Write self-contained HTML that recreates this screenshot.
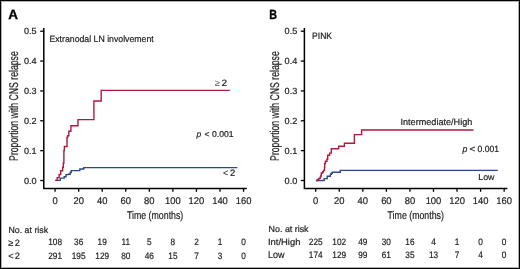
<!DOCTYPE html>
<html><head><meta charset="utf-8"><style>
html,body{margin:0;padding:0;background:#fff;}
body{width:520px;height:269px;overflow:hidden;}
svg{display:block;will-change:transform;}
text{font-family:"Liberation Sans", sans-serif;fill:#1e1e1e;text-rendering:geometricPrecision;stroke:#1e1e1e;stroke-width:0.2px;}
</style></head><body>
<svg width="520" height="269" viewBox="0 0 520 269">
<rect x="0" y="0" width="520" height="269" fill="#fff"/>
<rect x="0.5" y="0.5" width="519" height="268" fill="none" stroke="#000" stroke-width="1"/>
<rect x="1.5" y="1.5" width="517" height="266" fill="none" stroke="#000" stroke-opacity="0.3" stroke-width="1"/>
<text transform="translate(8.25,19.35) scale(0.9900,1)" font-size="13.60" font-weight="bold" style="stroke:#000;stroke-width:0.35px;fill:#000">A</text>
<text transform="translate(269.30,19.45) scale(0.8100,1)" font-size="13.30" font-weight="bold" style="stroke:#000;stroke-width:0.35px;fill:#000">B</text>
<g transform="translate(0,0)">
<path d="M43.8,28 V188.6 H246.8" fill="none" stroke="#000" stroke-width="1.5"/>
<line x1="40.2" x2="43.8" y1="180.50" y2="180.50" stroke="#000" stroke-width="1.3"/>
<text transform="translate(36.70,183.50) scale(1.0400,1)" font-size="8.80" text-anchor="end" >0.0</text>
<line x1="40.2" x2="43.8" y1="150.64" y2="150.64" stroke="#000" stroke-width="1.3"/>
<text transform="translate(36.70,153.64) scale(1.0400,1)" font-size="8.80" text-anchor="end" >0.1</text>
<line x1="40.2" x2="43.8" y1="120.78" y2="120.78" stroke="#000" stroke-width="1.3"/>
<text transform="translate(36.70,123.78) scale(1.0400,1)" font-size="8.80" text-anchor="end" >0.2</text>
<line x1="40.2" x2="43.8" y1="90.92" y2="90.92" stroke="#000" stroke-width="1.3"/>
<text transform="translate(36.70,93.92) scale(1.0400,1)" font-size="8.80" text-anchor="end" >0.3</text>
<line x1="40.2" x2="43.8" y1="61.06" y2="61.06" stroke="#000" stroke-width="1.3"/>
<text transform="translate(36.70,64.06) scale(1.0400,1)" font-size="8.80" text-anchor="end" >0.4</text>
<line x1="40.2" x2="43.8" y1="31.20" y2="31.20" stroke="#000" stroke-width="1.3"/>
<text transform="translate(36.70,34.20) scale(1.0400,1)" font-size="8.80" text-anchor="end" >0.5</text>
<line x1="55.10" x2="55.10" y1="188.6" y2="191.8" stroke="#000" stroke-width="1.3"/>
<text transform="translate(55.10,203.75) scale(0.9600,1)" font-size="9.79" text-anchor="middle" >0</text>
<line x1="78.66" x2="78.66" y1="188.6" y2="191.8" stroke="#000" stroke-width="1.3"/>
<text transform="translate(78.66,203.75) scale(0.9600,1)" font-size="9.79" text-anchor="middle" >20</text>
<line x1="102.21" x2="102.21" y1="188.6" y2="191.8" stroke="#000" stroke-width="1.3"/>
<text transform="translate(102.21,203.75) scale(0.9600,1)" font-size="9.79" text-anchor="middle" >40</text>
<line x1="125.77" x2="125.77" y1="188.6" y2="191.8" stroke="#000" stroke-width="1.3"/>
<text transform="translate(125.77,203.75) scale(0.9600,1)" font-size="9.79" text-anchor="middle" >60</text>
<line x1="149.32" x2="149.32" y1="188.6" y2="191.8" stroke="#000" stroke-width="1.3"/>
<text transform="translate(149.32,203.75) scale(0.9600,1)" font-size="9.79" text-anchor="middle" >80</text>
<line x1="172.88" x2="172.88" y1="188.6" y2="191.8" stroke="#000" stroke-width="1.3"/>
<text transform="translate(172.88,203.75) scale(0.9600,1)" font-size="9.79" text-anchor="middle" >100</text>
<line x1="196.44" x2="196.44" y1="188.6" y2="191.8" stroke="#000" stroke-width="1.3"/>
<text transform="translate(196.44,203.75) scale(0.9600,1)" font-size="9.79" text-anchor="middle" >120</text>
<line x1="219.99" x2="219.99" y1="188.6" y2="191.8" stroke="#000" stroke-width="1.3"/>
<text transform="translate(219.99,203.75) scale(0.9600,1)" font-size="9.79" text-anchor="middle" >140</text>
<line x1="243.55" x2="243.55" y1="188.6" y2="191.8" stroke="#000" stroke-width="1.3"/>
<text transform="translate(243.55,203.75) scale(0.9600,1)" font-size="9.79" text-anchor="middle" >160</text>
<text transform="translate(126.98,218.60) scale(0.7909,1)" font-size="11.12" >Time (months)</text>
<g transform="translate(0,160.1) rotate(-90)"><text transform="translate(-0.80,18.03) scale(0.6832,1)" font-size="12.73" >Proportion with CNS relapse</text></g>
</g>
<g transform="translate(260.6,0)">
<path d="M43.8,28 V188.6 H246.8" fill="none" stroke="#000" stroke-width="1.5"/>
<line x1="40.2" x2="43.8" y1="180.50" y2="180.50" stroke="#000" stroke-width="1.3"/>
<text transform="translate(36.70,183.50) scale(1.0400,1)" font-size="8.80" text-anchor="end" >0.0</text>
<line x1="40.2" x2="43.8" y1="150.64" y2="150.64" stroke="#000" stroke-width="1.3"/>
<text transform="translate(36.70,153.64) scale(1.0400,1)" font-size="8.80" text-anchor="end" >0.1</text>
<line x1="40.2" x2="43.8" y1="120.78" y2="120.78" stroke="#000" stroke-width="1.3"/>
<text transform="translate(36.70,123.78) scale(1.0400,1)" font-size="8.80" text-anchor="end" >0.2</text>
<line x1="40.2" x2="43.8" y1="90.92" y2="90.92" stroke="#000" stroke-width="1.3"/>
<text transform="translate(36.70,93.92) scale(1.0400,1)" font-size="8.80" text-anchor="end" >0.3</text>
<line x1="40.2" x2="43.8" y1="61.06" y2="61.06" stroke="#000" stroke-width="1.3"/>
<text transform="translate(36.70,64.06) scale(1.0400,1)" font-size="8.80" text-anchor="end" >0.4</text>
<line x1="40.2" x2="43.8" y1="31.20" y2="31.20" stroke="#000" stroke-width="1.3"/>
<text transform="translate(36.70,34.20) scale(1.0400,1)" font-size="8.80" text-anchor="end" >0.5</text>
<line x1="55.10" x2="55.10" y1="188.6" y2="191.8" stroke="#000" stroke-width="1.3"/>
<text transform="translate(55.10,203.75) scale(0.9600,1)" font-size="9.79" text-anchor="middle" >0</text>
<line x1="78.66" x2="78.66" y1="188.6" y2="191.8" stroke="#000" stroke-width="1.3"/>
<text transform="translate(78.66,203.75) scale(0.9600,1)" font-size="9.79" text-anchor="middle" >20</text>
<line x1="102.21" x2="102.21" y1="188.6" y2="191.8" stroke="#000" stroke-width="1.3"/>
<text transform="translate(102.21,203.75) scale(0.9600,1)" font-size="9.79" text-anchor="middle" >40</text>
<line x1="125.77" x2="125.77" y1="188.6" y2="191.8" stroke="#000" stroke-width="1.3"/>
<text transform="translate(125.77,203.75) scale(0.9600,1)" font-size="9.79" text-anchor="middle" >60</text>
<line x1="149.32" x2="149.32" y1="188.6" y2="191.8" stroke="#000" stroke-width="1.3"/>
<text transform="translate(149.32,203.75) scale(0.9600,1)" font-size="9.79" text-anchor="middle" >80</text>
<line x1="172.88" x2="172.88" y1="188.6" y2="191.8" stroke="#000" stroke-width="1.3"/>
<text transform="translate(172.88,203.75) scale(0.9600,1)" font-size="9.79" text-anchor="middle" >100</text>
<line x1="196.44" x2="196.44" y1="188.6" y2="191.8" stroke="#000" stroke-width="1.3"/>
<text transform="translate(196.44,203.75) scale(0.9600,1)" font-size="9.79" text-anchor="middle" >120</text>
<line x1="219.99" x2="219.99" y1="188.6" y2="191.8" stroke="#000" stroke-width="1.3"/>
<text transform="translate(219.99,203.75) scale(0.9600,1)" font-size="9.79" text-anchor="middle" >140</text>
<line x1="243.55" x2="243.55" y1="188.6" y2="191.8" stroke="#000" stroke-width="1.3"/>
<text transform="translate(243.55,203.75) scale(0.9600,1)" font-size="9.79" text-anchor="middle" >160</text>
<text transform="translate(126.98,218.60) scale(0.7909,1)" font-size="11.12" >Time (months)</text>
<g transform="translate(0,160.1) rotate(-90)"><text transform="translate(-0.80,18.03) scale(0.6832,1)" font-size="12.73" >Proportion with CNS relapse</text></g>
</g>
<text transform="translate(49.40,42.10) scale(0.9500,1)" font-size="9.20" >Extranodal LN involvement</text>
<path d="M55.3,180.4 H60.3 V178.1 H64.2 V176.7 H66.0 V174.6 H68.3 V174.2 H70.2 V172.5 H71.2 V170.6 H79.8 V169 H83.8 V167.6 H237.3" fill="none" stroke="#2b4a7f" stroke-width="1.4"/>
<path d="M55.3,180.4 H57.2 V177.6 H59.1 V174.5 H60.7 V170.8 H62.7 V167.2 H63.3 V163 H63.9 V150.5 H64.4 V146.5 H67.0 V137.5 H67.6 V135.8 H68.8 V131.3 H70.9 V125.8 H78.0 V119.6 H93.9 V101 H101.2 V90.4 H229.8" fill="none" stroke="#b0193f" stroke-width="1.4"/>
<text x="214.80" y="86.00" font-size="9.30" style="fill:#555;stroke:none">≥</text>
<text transform="translate(221.50,86.00) scale(1.0800,1)" font-size="9.30" >2</text>
<text x="196.50" y="136.95" font-size="8.50" font-style="italic">p</text>
<text x="204.50" y="136.95" font-size="8.50" >&lt;</text>
<text transform="translate(212.10,137.00) scale(1.0100,1)" font-size="8.50" >0.001</text>
<text transform="translate(222.90,175.60) scale(0.9500,1)" font-size="9.40" style="fill:#444;stroke-width:0.1px">&lt;</text>
<text x="230.10" y="175.60" font-size="9.40" >2</text>
<text transform="translate(8.50,232.50) scale(1.0029,1)" font-size="8.78" >No. at risk</text>
<text x="8.20" y="245.90" font-size="9.20" >≥</text>
<text x="14.85" y="245.90" font-size="9.20" >2</text>
<text x="8.15" y="258.75" font-size="9.20" >&lt;</text>
<text x="14.85" y="258.75" font-size="9.20" >2</text>
<text transform="translate(312.10,39.20) scale(0.9300,1)" font-size="9.20" >PINK</text>
<path d="M315.9,180.5 H324.2 V178.6 H327.2 V176.3 H330.4 V174.2 H331.3 V173.2 H332.3 V172.3 H340.3 V170.4 H497.8" fill="none" stroke="#2b4a7f" stroke-width="1.4"/>
<path d="M315.9,180.5 H317.6 V179.4 H318.8 V178.4 H320.2 V177 H320.9 V175.5 H321.3 V173.0 H322.7 V171.8 H323.6 V170.4 H324.5 V167.5 H324.7 V163.5 H325.4 V161.3 H326.9 V159.3 H327.7 V155.25 H329.6 V153.1 H331.3 V148.8 H338.7 V146.3 H344.4 V143.3 H354.4 V134.6 H361.6 V130 H473.5" fill="none" stroke="#b0193f" stroke-width="1.4"/>
<text x="400.50" y="124.85" font-size="9.10" >Intermediate/High</text>
<text transform="translate(462.50,152.40) scale(0.9600,1)" font-size="9.00" font-style="italic">p</text>
<text transform="translate(469.60,152.40) scale(1.1000,1)" font-size="9.00" >&lt;</text>
<text transform="translate(477.55,152.40) scale(0.9500,1)" font-size="9.00" >0.001</text>
<text transform="translate(478.19,180.21) scale(1.0200,1)" font-size="8.71" >Low</text>
<text transform="translate(268.60,231.90) scale(1.0054,1)" font-size="8.84" >No. at risk</text>
<text transform="translate(267.95,244.72) scale(1.0551,1)" font-size="8.93" >Int/High</text>
<text transform="translate(268.08,257.70) scale(0.9068,1)" font-size="9.93" >Low</text>
<text transform="translate(55.10,245.35) scale(0.8900,1)" font-size="9.30" text-anchor="middle" >108</text>
<text transform="translate(78.66,245.35) scale(0.8900,1)" font-size="9.30" text-anchor="middle" >36</text>
<text transform="translate(102.21,245.35) scale(0.8900,1)" font-size="9.30" text-anchor="middle" >19</text>
<text transform="translate(125.77,245.35) scale(0.8900,1)" font-size="9.30" text-anchor="middle" >11</text>
<text transform="translate(149.32,245.35) scale(0.8900,1)" font-size="9.30" text-anchor="middle" >5</text>
<text transform="translate(172.88,245.35) scale(0.8900,1)" font-size="9.30" text-anchor="middle" >8</text>
<text transform="translate(196.44,245.35) scale(0.8900,1)" font-size="9.30" text-anchor="middle" >2</text>
<text transform="translate(219.99,245.35) scale(0.8900,1)" font-size="9.30" text-anchor="middle" >1</text>
<text transform="translate(243.55,245.35) scale(0.8900,1)" font-size="9.30" text-anchor="middle" >0</text>
<text transform="translate(55.10,258.60) scale(0.8900,1)" font-size="9.30" text-anchor="middle" >291</text>
<text transform="translate(78.66,258.60) scale(0.8900,1)" font-size="9.30" text-anchor="middle" >195</text>
<text transform="translate(102.21,258.60) scale(0.8900,1)" font-size="9.30" text-anchor="middle" >129</text>
<text transform="translate(125.77,258.60) scale(0.8900,1)" font-size="9.30" text-anchor="middle" >80</text>
<text transform="translate(149.32,258.60) scale(0.8900,1)" font-size="9.30" text-anchor="middle" >46</text>
<text transform="translate(172.88,258.60) scale(0.8900,1)" font-size="9.30" text-anchor="middle" >15</text>
<text transform="translate(196.44,258.60) scale(0.8900,1)" font-size="9.30" text-anchor="middle" >7</text>
<text transform="translate(219.99,258.60) scale(0.8900,1)" font-size="9.30" text-anchor="middle" >3</text>
<text transform="translate(243.55,258.60) scale(0.8900,1)" font-size="9.30" text-anchor="middle" >0</text>
<text transform="translate(315.70,244.75) scale(0.8900,1)" font-size="9.30" text-anchor="middle" >225</text>
<text transform="translate(339.26,244.75) scale(0.8900,1)" font-size="9.30" text-anchor="middle" >102</text>
<text transform="translate(362.81,244.75) scale(0.8900,1)" font-size="9.30" text-anchor="middle" >49</text>
<text transform="translate(386.37,244.75) scale(0.8900,1)" font-size="9.30" text-anchor="middle" >30</text>
<text transform="translate(409.92,244.75) scale(0.8900,1)" font-size="9.30" text-anchor="middle" >16</text>
<text transform="translate(433.48,244.75) scale(0.8900,1)" font-size="9.30" text-anchor="middle" >4</text>
<text transform="translate(457.04,244.75) scale(0.8900,1)" font-size="9.30" text-anchor="middle" >1</text>
<text transform="translate(480.59,244.75) scale(0.8900,1)" font-size="9.30" text-anchor="middle" >0</text>
<text transform="translate(504.15,244.75) scale(0.8900,1)" font-size="9.30" text-anchor="middle" >0</text>
<text transform="translate(315.70,258.00) scale(0.8900,1)" font-size="9.30" text-anchor="middle" >174</text>
<text transform="translate(339.26,258.00) scale(0.8900,1)" font-size="9.30" text-anchor="middle" >129</text>
<text transform="translate(362.81,258.00) scale(0.8900,1)" font-size="9.30" text-anchor="middle" >99</text>
<text transform="translate(386.37,258.00) scale(0.8900,1)" font-size="9.30" text-anchor="middle" >61</text>
<text transform="translate(409.92,258.00) scale(0.8900,1)" font-size="9.30" text-anchor="middle" >35</text>
<text transform="translate(433.48,258.00) scale(0.8900,1)" font-size="9.30" text-anchor="middle" >13</text>
<text transform="translate(457.04,258.00) scale(0.8900,1)" font-size="9.30" text-anchor="middle" >7</text>
<text transform="translate(480.59,258.00) scale(0.8900,1)" font-size="9.30" text-anchor="middle" >4</text>
<text transform="translate(504.15,258.00) scale(0.8900,1)" font-size="9.30" text-anchor="middle" >0</text>
</svg></body></html>
